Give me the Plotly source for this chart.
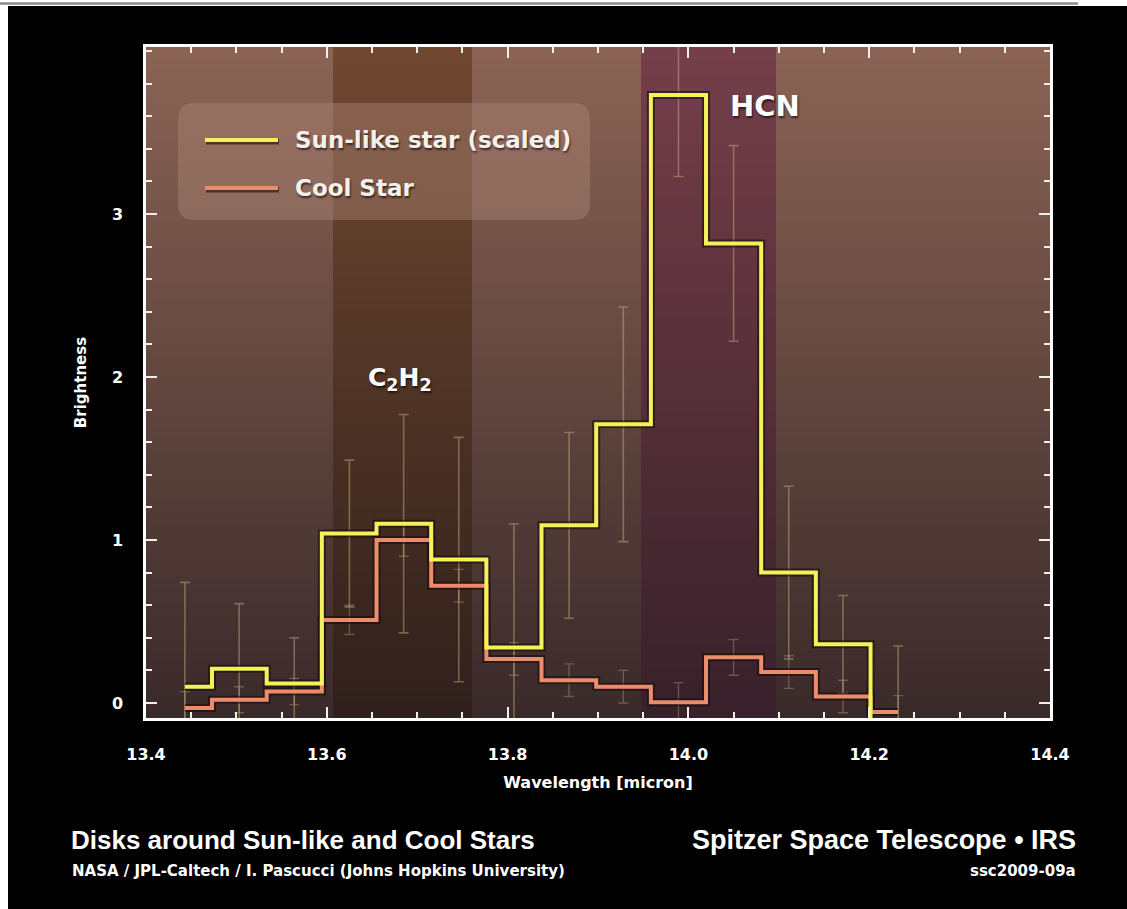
import numpy as np
import plotly.graph_objects as go

# ---------------- data ----------------
wavelength = [13.443, 13.503, 13.564, 13.625, 13.685, 13.746, 13.807,
              13.868, 13.928, 13.989, 14.050, 14.111, 14.171, 14.232]
sun_like = [0.10, 0.21, 0.12, 1.04, 1.10, 0.88, 0.34,
            1.09, 1.71, 3.73, 2.82, 0.80, 0.36, -0.30]
sun_like_err = [0.64, 0.40, 0.28, 0.45, 0.67, 0.75, 0.76,
                0.57, 0.72, 0.50, 0.60, 0.53, 0.30, 0.65]
cool_star = [-0.03, 0.02, 0.07, 0.51, 1.00, 0.72, 0.27,
             0.14, 0.10, 0.005, 0.28, 0.19, 0.04, -0.055]
cool_star_err = [0.10, 0.08, 0.08, 0.09, 0.10, 0.10, 0.10,
                 0.10, 0.10, 0.12, 0.11, 0.10, 0.10, 0.10]

band_edges = [13.4, 13.607, 13.761, 13.948, 14.097, 14.4]
band_kind = [0, 1, 0, 2, 0]          # 0 = background, 1 = C2H2, 2 = HCN

x_ticks = [13.4, 13.6, 13.8, 14.0, 14.2, 14.4]
x_ticktext = ["13.4", "13.6", "13.8", "14.0", "14.2", "14.4"]
y_ticks = [0, 1, 2, 3]

Y_MIN, Y_MAX = -0.092, 4.025

# ---------------- figure ----------------
fig = go.Figure()

# background gradient with spectral bands
n_rows = 120
y_edges = np.linspace(Y_MIN, Y_MAX, n_rows + 1)
t = (np.arange(n_rows) + 0.5) / n_rows
z = np.array([[k + 0.01 + 0.98 * ti for k in band_kind] for ti in t])
eps = 1e-4
colorscale = [
    [0.0, "rgb(56,41,41)"], [1 / 3 - eps, "rgb(140,100,85)"],
    [1 / 3, "rgb(46,31,27)"], [2 / 3 - eps, "rgb(114,73,49)"],
    [2 / 3, "rgb(54,32,41)"], [1.0, "rgb(118,63,74)"],
]
fig.add_trace(go.Heatmap(
    x=band_edges, y=y_edges, z=z, zmin=0, zmax=3,
    colorscale=colorscale, showscale=False, zsmooth=False,
    hoverinfo="skip", showlegend=False,
))

# error bars (drawn beneath the lines)
fig.add_trace(go.Scatter(
    x=wavelength, y=sun_like, mode="markers",
    marker=dict(size=1, color="rgba(0,0,0,0)"),
    error_y=dict(type="data", array=sun_like_err, visible=True,
                 color="rgba(205,180,130,0.45)", thickness=1.6, width=5),
    showlegend=False, hoverinfo="skip",
))
fig.add_trace(go.Scatter(
    x=wavelength, y=cool_star, mode="markers",
    marker=dict(size=1, color="rgba(0,0,0,0)"),
    error_y=dict(type="data", array=cool_star_err, visible=True,
                 color="rgba(205,180,130,0.35)", thickness=1.4, width=5),
    showlegend=False, hoverinfo="skip",
))

# shadows
for series in (cool_star, sun_like):
    fig.add_trace(go.Scatter(
        x=wavelength, y=series, mode="lines", line_shape="hvh",
        line=dict(color="rgba(25,12,8,0.6)", width=8),
        showlegend=False, hoverinfo="skip",
    ))

fig.add_trace(go.Scatter(
    x=wavelength, y=cool_star, mode="lines", line_shape="hvh",
    name="Cool Star", line=dict(color="#ec8c6c", width=4),
    showlegend=False,
))
fig.add_trace(go.Scatter(
    x=wavelength, y=sun_like, mode="lines", line_shape="hvh",
    name="Sun-like star (scaled)", line=dict(color="#f4f25a", width=4),
    showlegend=False,
))

# ---------------- layout ----------------
axis_common = dict(
    showline=True, linecolor="white", linewidth=2.5, mirror="ticks",
    ticks="inside", ticklen=11, tickwidth=2.2, tickcolor="#f4eee8",
    showgrid=False, zeroline=False,
    tickfont=dict(family="DejaVu Sans", size=16, color="white", weight="bold"),
)

fig.update_layout(
    width=1127, height=909,
    margin=dict(l=146, r=77, t=47, b=191),
    paper_bgcolor="black", plot_bgcolor="rgb(90,65,60)",
    showlegend=False,
    xaxis=dict(
        **axis_common, range=[13.4, 14.4], autorange=False,
        tickvals=x_ticks, ticktext=x_ticktext, ticklabelstandoff=20,
        minor=dict(dtick=0.05, tick0=13.4, ticks="inside", ticklen=6,
                   tickwidth=2, tickcolor="#f4eee8"),
        title=dict(text="Wavelength [micron]", standoff=14,
                   font=dict(family="DejaVu Sans", size=16, color="white",
                             weight="bold")),
    ),
    yaxis=dict(
        **axis_common, range=[Y_MIN, Y_MAX], autorange=False,
        tickvals=y_ticks, ticklabelstandoff=17,
        minor=dict(dtick=0.2, tick0=0, ticks="inside", ticklen=6,
                   tickwidth=2, tickcolor="#f4eee8"),
        title=dict(text="Brightness", standoff=22,
                   font=dict(family="DejaVu Sans", size=15, color="white",
                             weight="bold")),
    ),
)

# ---------- legend box (manual) ----------
def px_x(p):
    return (p - 146) / 904


def px_y(p):
    return (718 - p) / 671


lx0, lx1, ly0, ly1 = 178, 590, 103, 220
r = 16
path = (
    f"M {px_x(lx0 + r)},{px_y(ly0)} L {px_x(lx1 - r)},{px_y(ly0)} "
    f"Q {px_x(lx1)},{px_y(ly0)} {px_x(lx1)},{px_y(ly0 + r)} "
    f"L {px_x(lx1)},{px_y(ly1 - r)} "
    f"Q {px_x(lx1)},{px_y(ly1)} {px_x(lx1 - r)},{px_y(ly1)} "
    f"L {px_x(lx0 + r)},{px_y(ly1)} "
    f"Q {px_x(lx0)},{px_y(ly1)} {px_x(lx0)},{px_y(ly1 - r)} "
    f"L {px_x(lx0)},{px_y(ly0 + r)} "
    f"Q {px_x(lx0)},{px_y(ly0)} {px_x(lx0 + r)},{px_y(ly0)} Z"
)
shapes = [
    dict(type="path", path=path, xref="paper", yref="paper", layer="above",
         fillcolor="rgba(175,135,118,0.42)", line=dict(width=0)),
]
legend_items = [("Sun-like star (scaled)", "#f4f25a", 140),
                ("Cool Star", "#ec8c6c", 188)]
annotations = []
for label, color, ypx in legend_items:
    shapes.append(dict(type="line", xref="paper", yref="paper", layer="above",
                       x0=px_x(206), x1=px_x(279), y0=px_y(ypx + 1.5), y1=px_y(ypx + 1.5),
                       line=dict(color="rgba(30,15,10,0.6)", width=6)))
    shapes.append(dict(type="line", xref="paper", yref="paper", layer="above",
                       x0=px_x(205), x1=px_x(278), y0=px_y(ypx), y1=px_y(ypx),
                       line=dict(color=color, width=4)))
    annotations.append(dict(
        text=label, xref="paper", yref="paper", x=px_x(293), y=px_y(ypx),
        xanchor="left", yanchor="middle", showarrow=False,
        font=dict(family="DejaVu Sans", size=23, color="#f6f0ea", weight="bold",
                  shadow="1px 2px 2px rgba(0,0,0,0.6)"),
    ))

# molecule labels
annotations.append(dict(
    text="HCN", x=14.085, y=3.66, xref="x", yref="y", showarrow=False,
    font=dict(family="DejaVu Sans", size=29, color="white", weight="bold",
              shadow="1px 2px 2px rgba(0,0,0,0.6)"),
))
annotations.append(dict(
    text="C<sub>2</sub>H<sub>2</sub>", x=13.681, y=1.99, xref="x", yref="y",
    showarrow=False,
    font=dict(family="DejaVu Sans", size=25, color="white", weight="bold",
              shadow="1px 2px 2px rgba(0,0,0,0.6)"),
))

# credit lines
annotations += [
    dict(text="Disks around Sun-like and Cool Stars", xref="paper", yref="paper",
         x=px_x(69), y=px_y(840), xanchor="left", yanchor="middle", showarrow=False,
         font=dict(family="Liberation Sans", size=26, color="white", weight="bold")),
    dict(text="NASA / JPL-Caltech / I. Pascucci (Johns Hopkins University)",
         xref="paper", yref="paper", x=px_x(70), y=px_y(871), xanchor="left",
         yanchor="middle", showarrow=False,
         font=dict(family="DejaVu Sans", size=15, color="white", weight="bold")),
    dict(text="Spitzer Space Telescope • IRS", xref="paper", yref="paper",
         x=px_x(1078), y=px_y(840), xanchor="right", yanchor="middle", showarrow=False,
         font=dict(family="Liberation Sans", size=27, color="white", weight="bold")),
    dict(text="ssc2009-09a", xref="paper", yref="paper", x=px_x(1078), y=px_y(871),
         xanchor="right", yanchor="middle", showarrow=False,
         font=dict(family="DejaVu Sans", size=15, color="white", weight="bold")),
]

# white page border and thin grey rule at the top
shapes += [
    dict(type="rect", xref="paper", yref="paper", layer="above",
         x0=px_x(0), x1=px_x(8), y0=px_y(909), y1=px_y(0),
         fillcolor="white", line=dict(width=0)),
    dict(type="rect", xref="paper", yref="paper", layer="above",
         x0=px_x(0), x1=px_x(1127), y0=px_y(6), y1=px_y(0),
         fillcolor="white", line=dict(width=0)),
    dict(type="line", xref="paper", yref="paper", layer="above",
         x0=px_x(0), x1=px_x(1078), y0=px_y(3.5), y1=px_y(3.5),
         line=dict(color="#8a8a8a", width=2.5)),
]

fig.update_layout(shapes=shapes, annotations=annotations)
fig.write_html("out.html")
